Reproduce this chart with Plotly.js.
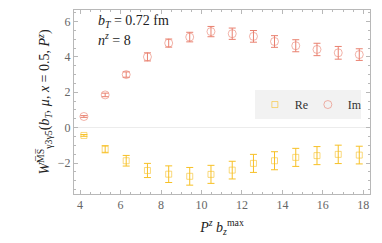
<!DOCTYPE html>
<html><head><meta charset="utf-8">
<script src="https://cdn.plot.ly/plotly-3.0.1.min.js"></script>
<style>html,body{margin:0;padding:0;background:#fff}#chart{width:382px;height:243px}</style>
</head><body><div id="chart"></div>
<script>
var xPz = [4.19, 5.24, 6.28, 7.33, 8.38, 9.42, 10.47, 11.52, 12.57, 13.61, 14.66, 15.71, 16.76, 17.80];
var reVals = [-0.44, -1.22, -1.87, -2.42, -2.63, -2.75, -2.64, -2.40, -2.02, -1.87, -1.68, -1.58, -1.51, -1.55];
var reErr  = [0.05, 0.20, 0.30, 0.40, 0.47, 0.50, 0.51, 0.50, 0.51, 0.51, 0.51, 0.51, 0.52, 0.50];
var imVals = [0.63, 1.85, 3.00, 4.00, 4.78, 5.12, 5.43, 5.31, 5.16, 4.87, 4.63, 4.42, 4.23, 4.13];
var imErr  = [0.05, 0.10, 0.15, 0.23, 0.23, 0.27, 0.29, 0.32, 0.33, 0.33, 0.34, 0.35, 0.36, 0.33];

var reColor = '#f7c025', imColor = '#e9806f';
var font = 'Liberation Serif';

var traces = [
  {x: xPz, y: reVals, name: 'Re', type: 'scatter', mode: 'markers',
   marker: {symbol: 'square-open', size: 6, color: reColor, opacity: 0.6, line: {width: 1}},
   error_y: {type: 'data', array: reErr, color: reColor, thickness: 1, width: 3.5}},
  {x: xPz, y: imVals, name: 'Im', type: 'scatter', mode: 'markers',
   marker: {symbol: 'circle-open', size: 8, color: imColor, opacity: 0.6, line: {width: 1}},
   error_y: {type: 'data', array: imErr, color: imColor, thickness: 1, width: 3.5}}
];

var axisCommon = {
  showline: true, linecolor: '#b8b8b8', linewidth: 1, mirror: 'ticks',
  ticks: 'inside', ticklen: 4, tickcolor: '#b8b8b8', showgrid: false,
  tickfont: {family: font, size: 12, color: '#666'},
  minor: {dtick: 0.5, ticks: 'inside', ticklen: 2, tickcolor: '#b8b8b8', showgrid: false}
};

var layout = {
  width: 382, height: 243,
  margin: {l: 74, r: 12, t: 10, b: 49},
  paper_bgcolor: '#fff', plot_bgcolor: '#fff',
  font: {family: font},
  showlegend: true,
  legend: {orientation: 'h', x: 0.611, y: 0.565, xanchor: 'left', yanchor: 'top',
           bgcolor: '#f2f2f2', font: {family: font, size: 12, color: '#333'},
           itemwidth: 30, entrywidth: 8},
  xaxis: Object.assign({}, axisCommon, {
    range: [3.7, 18.33], dtick: 2, tick0: 0, zeroline: false,
    title: {text: '<i>P</i><sup><i>z</i></sup> <i>b</i><sub><i>z</i></sub><sup>max</sup>', font: {family: font, size: 14, color: '#222'}, standoff: 10}
  }),
  yaxis: Object.assign({}, axisCommon, {
    range: [-3.75, 6.65], dtick: 2, tick0: 0,
    zeroline: true, zerolinecolor: '#ececec', zerolinewidth: 1,
    title: {text: '<i>W</i><sup>M\u0305S\u0305</sup><sub>γ3γ5</sub>(<i>b<sub>T</sub></i>, <i>μ</i>, <i>x</i> = 0.5, <i>P<sup>z</sup></i>)', font: {family: font, size: 14, color: '#222'}, standoff: 4}
  }),
  annotations: [
    {xref: 'paper', yref: 'paper', x: 0.075, y: 0.935, xanchor: 'left', yanchor: 'middle', showarrow: false,
     text: '<i>b<sub>T</sub></i> = 0.72 fm', font: {family: font, size: 14, color: '#222'}},
    {xref: 'paper', yref: 'paper', x: 0.075, y: 0.84, xanchor: 'left', yanchor: 'middle', showarrow: false,
     text: '<i>n<sup>z</sup></i> = 8', font: {family: font, size: 14, color: '#222'}}
  ]
};

Plotly.newPlot('chart', traces, layout, {displayModeBar: false, staticPlot: true});
</script></body></html>
